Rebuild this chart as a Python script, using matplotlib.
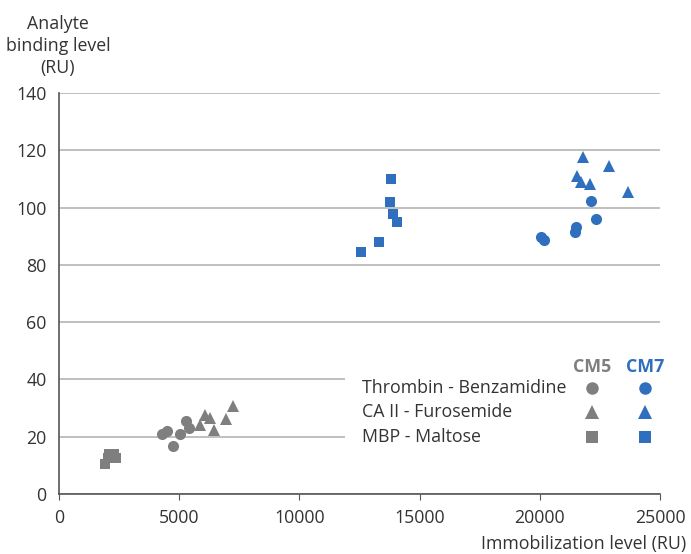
import matplotlib.pyplot as plt
from matplotlib.patches import Rectangle

plt.rcParams['font.family'] = ['Open Sans', 'DejaVu Sans']

gray = '#7f7f7f'
blue = '#2f6fbd'
txt = '#333333'
fs = 12.8

# CM5 (gray)
cm5_thrombin_x = [4300, 4510, 4740, 5040, 5280, 5400]
cm5_thrombin_y = [21.0, 22.1, 16.9, 20.8, 25.5, 23.2]
cm5_ca_x = [5880, 6080, 6290, 6450, 6950, 7240]
cm5_ca_y = [24.2, 27.7, 26.5, 22.2, 26.2, 30.6]
cm5_mbp_x = [1900, 2050, 2150, 2300, 2350, 2100]
cm5_mbp_y = [10.5, 12.5, 13.5, 14.0, 12.5, 13.8]

# CM7 (blue)
cm7_thrombin_x = [22120, 22320, 21490, 21450, 20040, 20180]
cm7_thrombin_y = [102.3, 96.1, 93.3, 91.4, 89.7, 88.7]
cm7_ca_x = [21790, 22880, 21540, 21720, 22070, 23650]
cm7_ca_y = [117.7, 114.7, 111.2, 108.8, 108.3, 105.6]
cm7_mbp_x = [13790, 13750, 13900, 14040, 13330, 12580]
cm7_mbp_y = [110.0, 102.0, 97.8, 95.1, 88.1, 84.6]

rows = ['Thrombin - Benzamidine', 'CA II - Furosemide', 'MBP - Maltose']
markers = ['o', '^', 's']
msizes = [8, 8.5, 7.5]

fig = plt.figure(figsize=(6.91, 5.54), dpi=100)
ax = fig.add_axes([0.0854, 0.1083, 0.8697, 0.7237])

ax.plot(cm5_thrombin_x, cm5_thrombin_y, 'o', color=gray, ms=msizes[0], mew=0, zorder=5)
ax.plot(cm5_ca_x, cm5_ca_y, '^', color=gray, ms=msizes[1], mew=0, zorder=5)
ax.plot(cm5_mbp_x, cm5_mbp_y, 's', color=gray, ms=msizes[2], mew=0, zorder=5)
ax.plot(cm7_thrombin_x, cm7_thrombin_y, 'o', color=blue, ms=msizes[0], mew=0, zorder=5)
ax.plot(cm7_ca_x, cm7_ca_y, '^', color=blue, ms=msizes[1], mew=0, zorder=5)
ax.plot(cm7_mbp_x, cm7_mbp_y, 's', color=blue, ms=msizes[2], mew=0, zorder=5)

ax.set_xlim(0, 25000)
ax.set_ylim(0, 140)
ax.set_xticks(range(0, 25001, 5000))
ax.set_yticks(range(0, 141, 20))
ax.yaxis.grid(True, color='#b4b4b4', lw=1.2)
ax.set_axisbelow(True)
for s in ['top', 'right']:
    ax.spines[s].set_visible(False)
for s in ['left', 'bottom']:
    ax.spines[s].set_color('#555555')
    ax.spines[s].set_linewidth(1.2)
ax.tick_params(axis='x', length=4, direction='out', color='#555555', labelsize=fs, labelcolor=txt, pad=7)
ax.tick_params(axis='y', length=0, labelsize=fs, labelcolor=txt, pad=9)

# legend box (hides grid lines behind it)
ax.add_patch(Rectangle((0.476, 0.035), 0.53, 0.35, transform=ax.transAxes,
                       facecolor='white', edgecolor='none', zorder=2, clip_on=False))
ax.text(0.887, 0.318, 'CM5', transform=ax.transAxes, color=gray, fontsize=fs,
        fontweight='bold', ha='center', va='center', zorder=6)
ax.text(0.975, 0.318, 'CM7', transform=ax.transAxes, color=blue, fontsize=fs,
        fontweight='bold', ha='center', va='center', zorder=6)
row_y = [0.265, 0.205, 0.142]
for lab, m, ms, yy in zip(rows, markers, msizes, row_y):
    ax.text(0.504, yy, lab, transform=ax.transAxes, color=txt, fontsize=fs,
            ha='left', va='center', zorder=6)
    ax.plot([0.887], [yy], m, color=gray, ms=ms + 1, mew=0, transform=ax.transAxes,
            clip_on=False, zorder=6)
    ax.plot([0.975], [yy], m, color=blue, ms=ms + 1, mew=0, transform=ax.transAxes,
            clip_on=False, zorder=6)

fig.text(0.084, 0.917, 'Analyte\nbinding level\n(RU)', ha='center', va='center',
         fontsize=fs, color=txt, linespacing=1.3)
fig.text(0.993, 0.018, 'Immobilization level (RU)', ha='right', va='center',
         fontsize=fs, color=txt)

fig.savefig('out.png', dpi=100)
